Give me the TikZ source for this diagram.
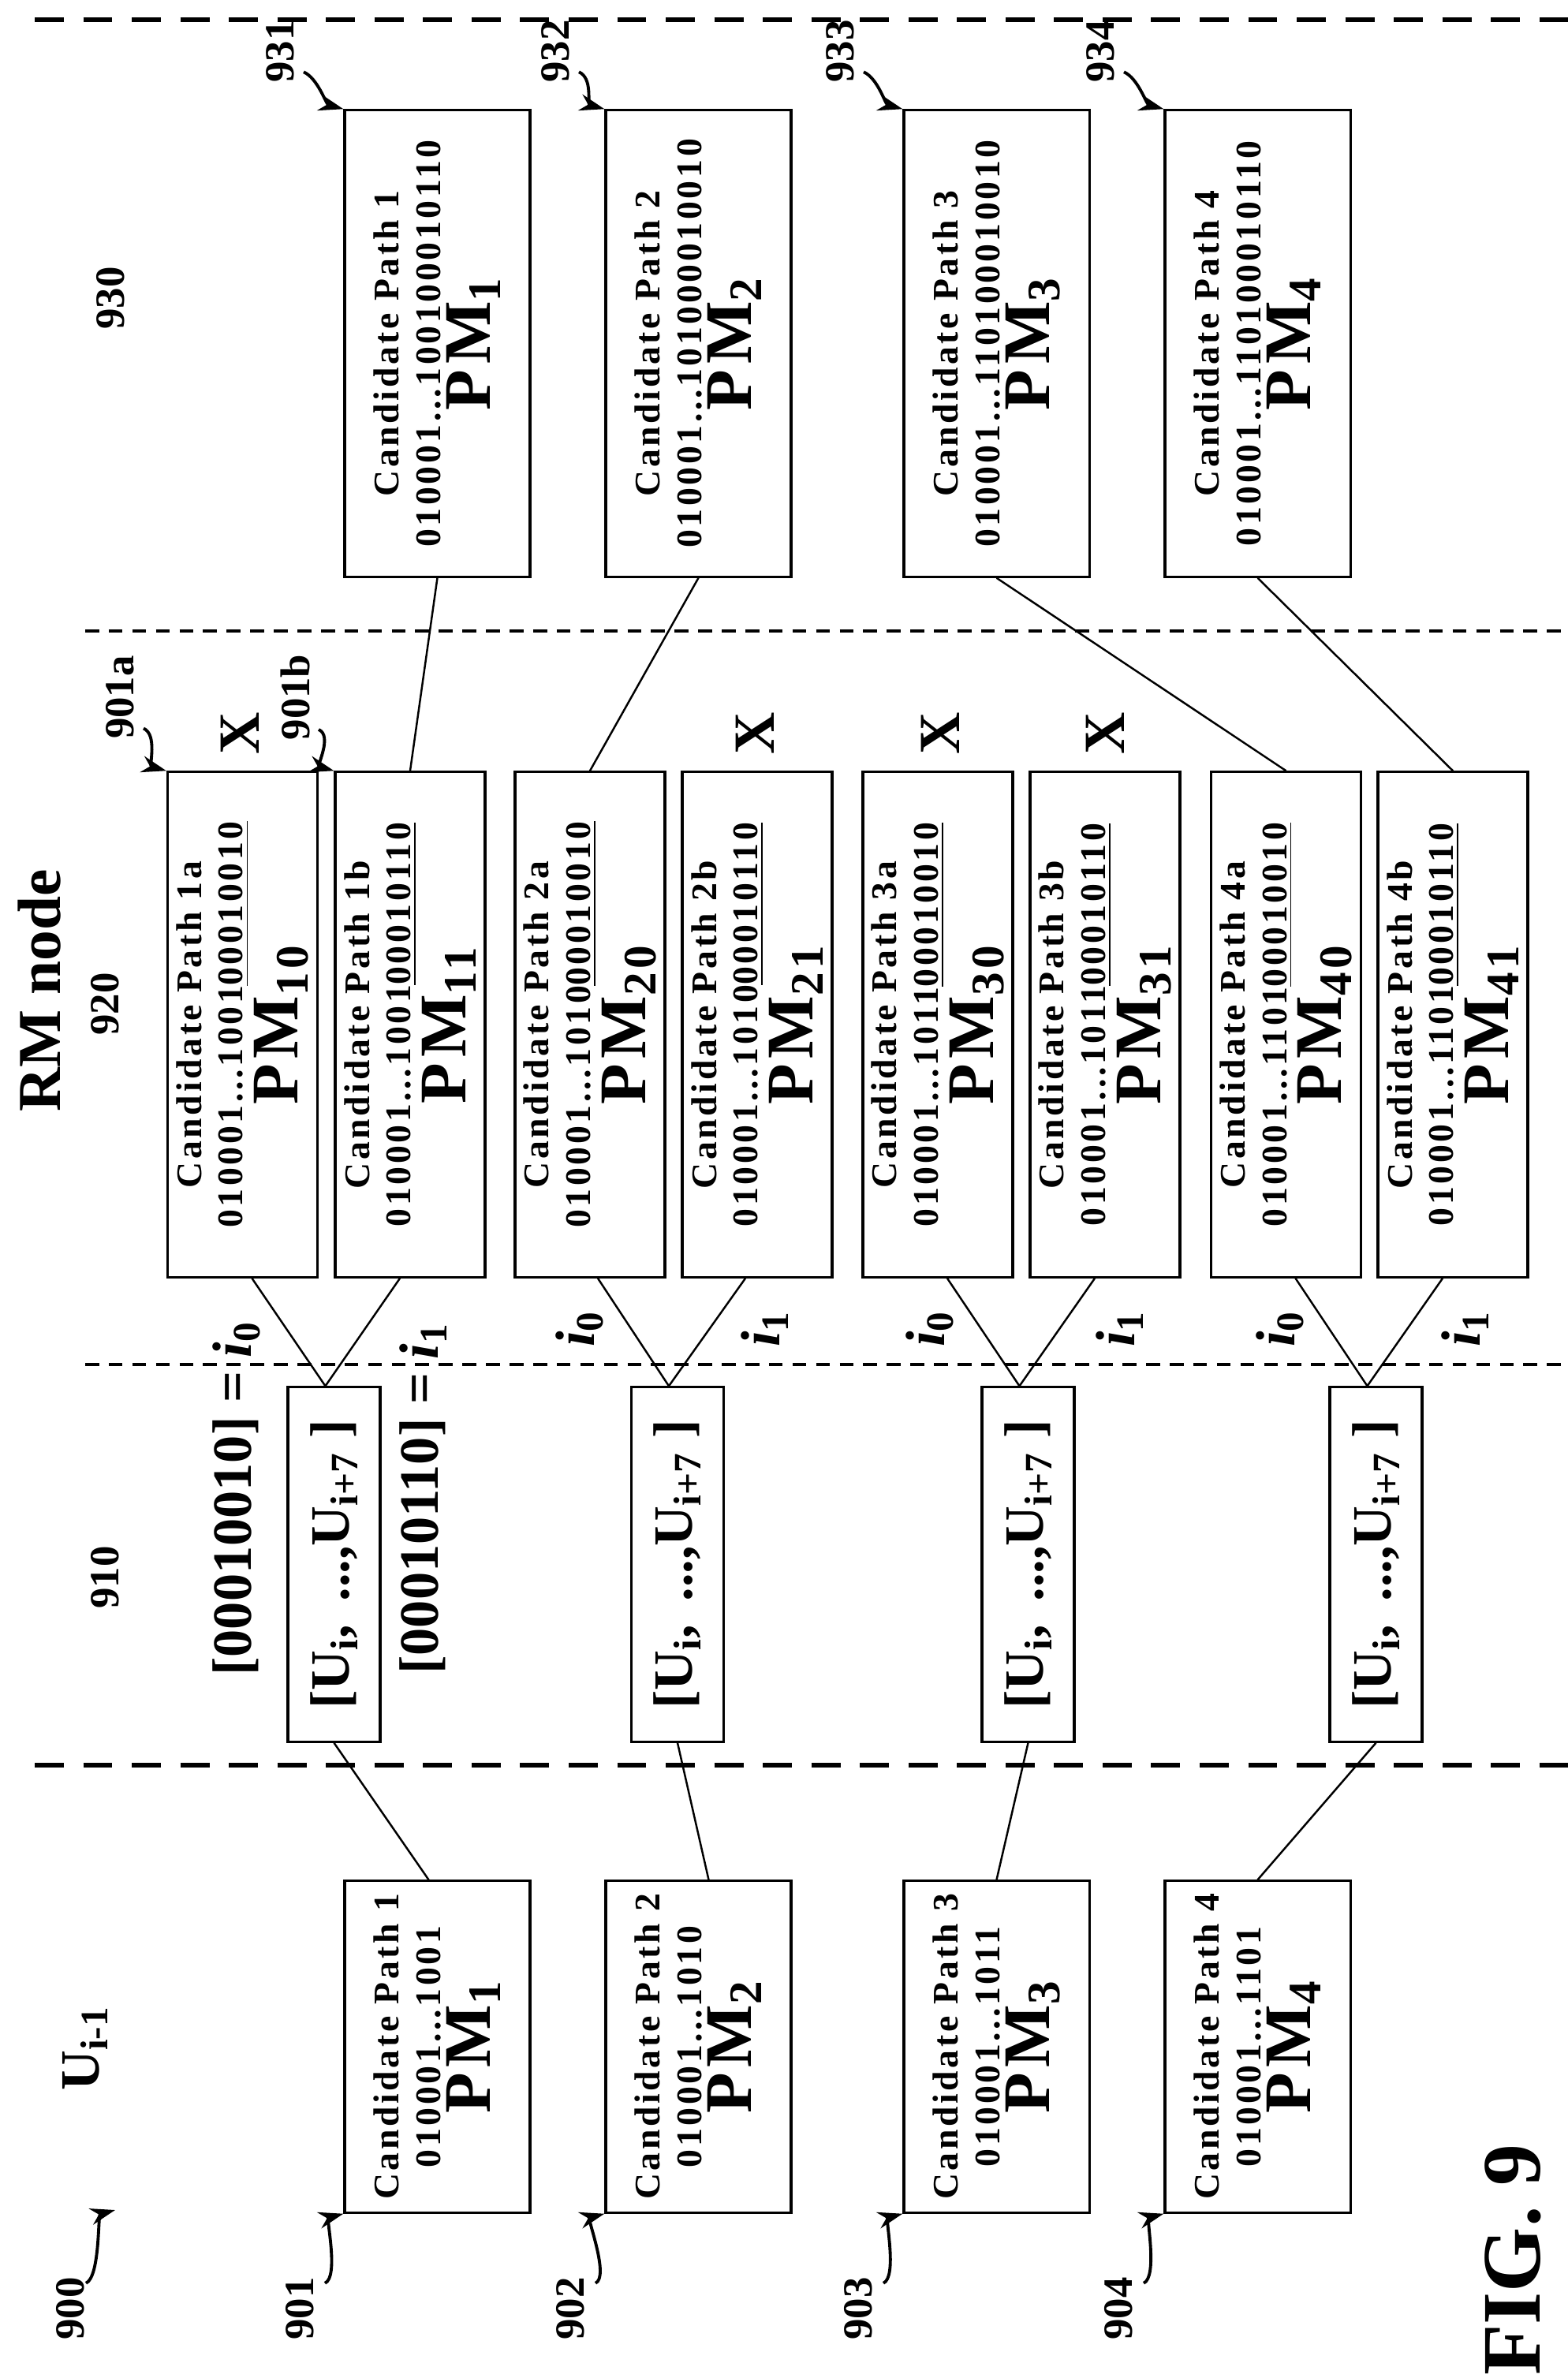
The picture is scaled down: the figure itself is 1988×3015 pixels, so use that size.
\documentclass[tikz,border=0pt]{standalone}
\usepackage{fontspec}
\setmainfont{Liberation Serif}
\usepackage{tikz}
\usetikzlibrary{calc}
\usetikzlibrary{arrows.meta}

\newcommand{\pmfont}{\fontsize{24}{24}\selectfont}

\begin{document}
\begin{tikzpicture}[x=0.01cm,y=-0.01cm,
    cpath/.style={draw, line width=0.9pt, rotate=90, inner sep=0pt, align=center,
        minimum width=5.91cm, minimum height=2.35cm,
        font=\fontsize{13}{15}\selectfont\bfseries\addfontfeature{LetterSpace=8}},
    cstart/.style={cpath, minimum width=4.2cm},
    cbranch/.style={cpath, minimum width=6.4cm, minimum height=1.9cm},
    ublock/.style={draw, line width=0.9pt, rotate=90, inner sep=0pt,
        minimum width=4.49cm, minimum height=1.17cm, font=\fontsize{20}{20}\selectfont\bfseries},
    lbl/.style={rotate=90, inner sep=0pt, font=\fontsize{15}{15}\selectfont\bfseries},
    big/.style={rotate=90, inner sep=0pt, font=\fontsize{20}{20}\selectfont\bfseries},
    lead/.style={line width=1.1pt, -{Stealth[length=9pt,width=6pt]}},
    link/.style={line width=0.7pt},
    bigdash/.style={line width=1.6pt, dash pattern=on 10.5pt off 7pt},
    smalldash/.style={line width=1pt, dash pattern=on 5pt off 3.5pt}]
    \useasboundingbox (0,0) rectangle (1988,3015);

    % stage borders
    \draw[bigdash] (44,25) -- (1988,25);
    \draw[smalldash] (108,800) -- (1988,800);
    \draw[smalldash] (108,1730) -- (1988,1730);
    \draw[bigdash] (44,2238) -- (1988,2238);

    % stage labels
    \node[lbl] (l930) at (140,378) {930};
    \node[big, font=\fontsize{22}{22}\selectfont\bfseries] (rm) at (50,1256) {RM node};
    \node[lbl] (l920) at (133,1273) {920};
    \node[lbl] (l910) at (133,2000) {910};
    \node[big] (uprev) at (108,2597) {U\textsubscript{i-1}};
    \node[lbl] (l900) at (89,2927) {900};
    \node[rotate=90, inner sep=0pt, font=\fontsize{30}{30}\selectfont\bfseries] (fig) at (1918,2865) {FIG. 9};

    % surviving paths
    \node[cpath] (c931) at (554.5,435.5) {Candidate Path 1\\010001...100100010110\\[1pt]\pmfont PM\textsubscript{1}};
    \node[cpath] (c932) at (885.5,435.5) {Candidate Path 2\\010001...101000010010\\[1pt]\pmfont PM\textsubscript{2}};
    \node[cpath] (c933) at (1263.5,435.5) {Candidate Path 3\\010001...110100010010\\[1pt]\pmfont PM\textsubscript{3}};
    \node[cpath] (c934) at (1594.5,435.5) {Candidate Path 4\\010001...110100010110\\[1pt]\pmfont PM\textsubscript{4}};

    % expanded paths
    \node[cbranch] (m1a) at (307.5,1299) {Candidate Path 1a\\010001...1001\underline{00010010}\\[1pt]\pmfont PM\textsubscript{10}};
    \node[cbranch] (m1b) at (520,1299) {Candidate Path 1b\\010001...1001\underline{00010110}\\[1pt]\pmfont PM\textsubscript{11}};
    \node[cbranch] (m2a) at (748,1299) {Candidate Path 2a\\010001...1010\underline{00010010}\\[1pt]\pmfont PM\textsubscript{20}};
    \node[cbranch] (m2b) at (960,1299) {Candidate Path 2b\\010001...1010\underline{00010110}\\[1pt]\pmfont PM\textsubscript{21}};
    \node[cbranch] (m3a) at (1189,1299) {Candidate Path 3a\\010001...1011\underline{00010010}\\[1pt]\pmfont PM\textsubscript{30}};
    \node[cbranch] (m3b) at (1401,1299) {Candidate Path 3b\\010001...1011\underline{00010110}\\[1pt]\pmfont PM\textsubscript{31}};
    \node[cbranch] (m4a) at (1630.5,1299) {Candidate Path 4a\\010001...1101\underline{00010010}\\[1pt]\pmfont PM\textsubscript{40}};
    \node[cbranch] (m4b) at (1842,1299) {Candidate Path 4b\\010001...1101\underline{00010110}\\[1pt]\pmfont PM\textsubscript{41}};

    % bit blocks
    \node[ublock] (u1) at (423.5,1983.5) {[U\textsubscript{i}, \,...,U\textsubscript{i+7}\ ]};
    \node[ublock] (u2) at (859,1983.5) {[U\textsubscript{i}, \,...,U\textsubscript{i+7}\ ]};
    \node[ublock] (u3) at (1303.5,1983.5) {[U\textsubscript{i}, \,...,U\textsubscript{i+7}\ ]};
    \node[ublock] (u4) at (1744.5,1983.5) {[U\textsubscript{i}, \,...,U\textsubscript{i+7}\ ]};

    % previous paths
    \node[cstart] (c901) at (554.5,2595) {Candidate Path 1\\010001...1001\\[1pt]\pmfont PM\textsubscript{1}};
    \node[cstart] (c902) at (885.5,2595) {Candidate Path 2\\010001...1010\\[1pt]\pmfont PM\textsubscript{2}};
    \node[cstart] (c903) at (1263.5,2595) {Candidate Path 3\\010001...1011\\[1pt]\pmfont PM\textsubscript{3}};
    \node[cstart] (c904) at (1594.5,2595) {Candidate Path 4\\010001...1101\\[1pt]\pmfont PM\textsubscript{4}};

    % bit values
    \node[big] (b0) at (300,1900) {[00010010] = \textit{i}\textsubscript{0}};
    \node[big] (b1) at (537,1900) {[00010110] = \textit{i}\textsubscript{1}};
    \node[big] (i20) at (735,1685) {\textit{i}\textsubscript{0}};
    \node[big] (i21) at (970,1685) {\textit{i}\textsubscript{1}};
    \node[big] (i30) at (1179,1685) {\textit{i}\textsubscript{0}};
    \node[big] (i31) at (1420,1685) {\textit{i}\textsubscript{1}};
    \node[big] (i40) at (1623,1685) {\textit{i}\textsubscript{0}};
    \node[big] (i41) at (1858,1685) {\textit{i}\textsubscript{1}};

    % pruned marks
    \node[big, font=\fontsize{21}{21}\selectfont\bfseries] (x1a) at (304,930) {X};
    \node[big, font=\fontsize{21}{21}\selectfont\bfseries] (x2b) at (957,930) {X};
    \node[big, font=\fontsize{21}{21}\selectfont\bfseries] (x3a) at (1192,930) {X};
    \node[big, font=\fontsize{21}{21}\selectfont\bfseries] (x3b) at (1401,930) {X};

    % reference labels
    \node[lbl] (l931) at (355,65) {931};
    \node[lbl] (l932) at (704,65) {932};
    \node[lbl] (l933) at (1065,65) {933};
    \node[lbl] (l934) at (1395,65) {934};
    \node[lbl] (l901a) at (152,884) {901a};
    \node[lbl] (l901b) at (374,884) {901b};
    \node[lbl] (l901) at (380,2927) {901};
    \node[lbl] (l902) at (723,2927) {902};
    \node[lbl] (l903) at (1088,2927) {903};
    \node[lbl] (l904) at (1418,2927) {904};

    \draw[lead] ($(l931.west)+(30,-14)$) .. controls +(18,8) and +(-22,-6) .. (c931.north east);
    \draw[lead] ($(l932.west)+(30,-14)$) .. controls +(18,8) and +(-22,-6) .. (c932.north east);
    \draw[lead] ($(l933.west)+(30,-14)$) .. controls +(18,8) and +(-22,-6) .. (c933.north east);
    \draw[lead] ($(l934.west)+(30,-14)$) .. controls +(18,8) and +(-22,-6) .. (c934.north east);
    \draw[lead] ($(l901a.west)+(30,-14)$) .. controls +(18,8) and +(-22,-6) .. (m1a.north east);
    \draw[lead] ($(l901b.west)+(30,-14)$) .. controls +(18,8) and +(-22,-6) .. (m1b.north east);
    \draw[lead] ($(l901.east)+(32,8)$) .. controls +(18,-8) and +(-22,6) .. (c901.north west);
    \draw[lead] ($(l902.east)+(32,8)$) .. controls +(18,-8) and +(-22,6) .. (c902.north west);
    \draw[lead] ($(l903.east)+(32,8)$) .. controls +(18,-8) and +(-22,6) .. (c903.north west);
    \draw[lead] ($(l904.east)+(32,8)$) .. controls +(18,-8) and +(-22,6) .. (c904.north west);
    \coordinate (a900) at (146,2802);
    \draw[lead] ($(l900.east)+(20,8)$) .. controls +(18,-8) and +(-22,6) .. (a900);

    % connectors
    \draw[link] (c931.west) -- (m1b.east);
    \draw[link] (c932.west) -- (m2a.east);
    \draw[link] (c933.west) -- (m4a.east);
    \draw[link] (c934.west) -- (m4b.east);
    \draw[link] ($(m1a.west)+(12,0)$) -- ($(u1.east)+(-11,0)$) -- ($(m1b.west)+(-13,0)$);
    \draw[link] ($(m2a.west)+(10,0)$) -- ($(u2.east)+(-11,0)$) -- ($(m2b.west)+(-15,0)$);
    \draw[link] ($(m3a.west)+(12,0)$) -- ($(u3.east)+(-11,0)$) -- ($(m3b.west)+(-13,0)$);
    \draw[link] ($(m4a.west)+(12,0)$) -- ($(u4.east)+(-11,0)$) -- ($(m4b.west)+(-13,0)$);
    \draw[link] (u1.west) -- ($(c901.east)+(-11,0)$);
    \draw[link] (u2.west) -- ($(c902.east)+(13,0)$);
    \draw[link] (u3.west) -- (c903.east);
    \draw[link] (u4.west) -- (c904.east);
\end{tikzpicture}
\end{document}
